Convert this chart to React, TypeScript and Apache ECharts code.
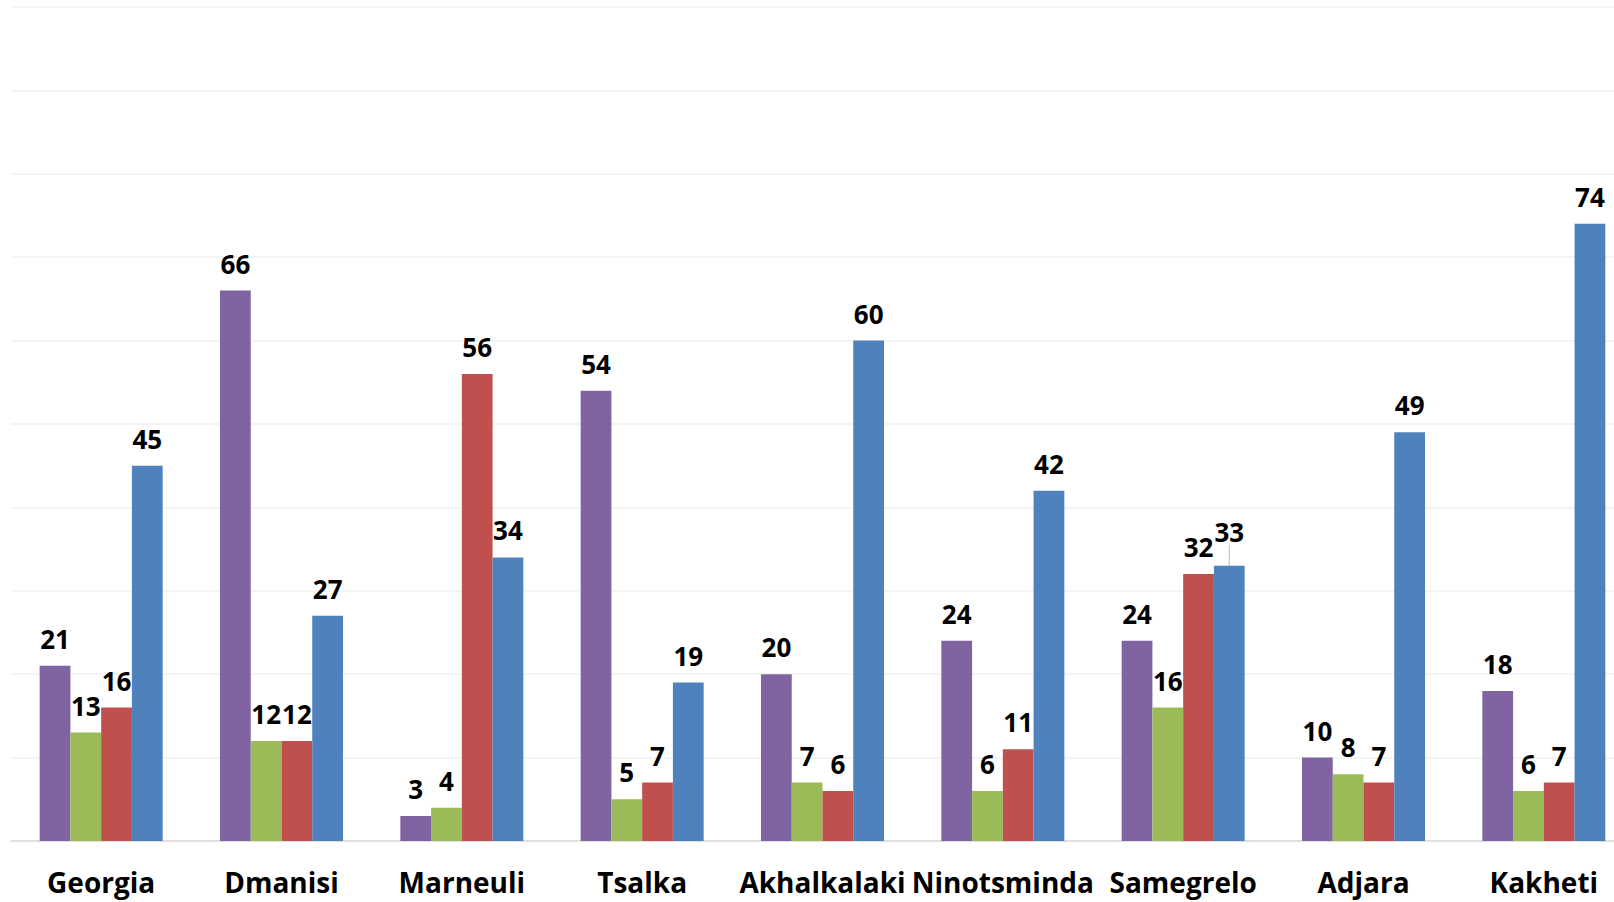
import React, { useEffect, useRef } from "react";
import * as echarts from "echarts";

const categories = ["Georgia", "Dmanisi", "Marneuli", "Tsalka", "Akhalkalaki", "Ninotsminda", "Samegrelo", "Adjara", "Kakheti"];
const purpleValues = [21, 66, 3, 54, 20, 24, 24, 10, 18];
const greenValues = [13, 12, 4, 5, 7, 6, 16, 8, 6];
const redValues = [16, 12, 56, 7, 6, 11, 32, 7, 7];
const blueValues = [45, 27, 34, 19, 60, 42, 33, 49, 74];
const seriesColors = ["#8064A2", "#9BBB59", "#C0504D", "#4F81BD"];

const FONT = "'Open Sans', 'DejaVu Sans', sans-serif";

export default function App() {
  const ref = useRef<HTMLDivElement>(null);
  useEffect(() => {
    document.body.style.margin = "0";
    document.body.style.overflow = "hidden";
    document.documentElement.style.overflow = "hidden";
    const chart = echarts.init(ref.current!, null, { renderer: "svg" });
    const label = {
      show: true,
      position: "top" as const,
      distance: 14,
      color: "#000",
      fontFamily: FONT,
      fontWeight: "bold" as const,
      fontSize: 26,
    };
    const mk = (vals: number[], color: string, idx: number) => {
      const s: any = {
        type: "bar",
        data: vals.map((v, i) => {
          if (idx === 3 && categories[i] === "Samegrelo") {
            return {
              value: v,
              labelLine: { show: true, lineStyle: { color: "#bfbfbf", width: 1 } },
            };
          }
          return v;
        }),
        itemStyle: { color },
        barGap: "0%",
        barCategoryGap: "31.8%",
        label,
      };
      if (idx === 3) {
        s.labelLayout = (p: any) => (categories[p.dataIndex] === "Samegrelo" ? { dy: -7 } : {});
      }
      return s;
    };
    chart.setOption({
      animation: false,
      grid: { left: 11, right: 0, top: 7, bottom: 61, containLabel: false },
      xAxis: {
        type: "category",
        data: categories,
        axisTick: { show: false },
        axisLine: { show: true, lineStyle: { color: "#d9d9d9", width: 1.5 } },
        axisLabel: {
          color: "#000",
          fontFamily: FONT,
          fontWeight: "bold",
          fontSize: 28,
          margin: 27,
          interval: 0,
        },
      },
      yAxis: {
        type: "value",
        min: 0,
        max: 100,
        interval: 10,
        axisLabel: { show: false },
        axisLine: { show: false },
        axisTick: { show: false },
        splitLine: { lineStyle: { color: "#f0f0f0", width: 1.5 } },
      },
      series: [
        mk(purpleValues, seriesColors[0], 0),
        mk(greenValues, seriesColors[1], 1),
        mk(redValues, seriesColors[2], 2),
        mk(blueValues, seriesColors[3], 3),
      ],
    });
    return () => chart.dispose();
  }, []);
  return (
    <div
      ref={ref}
      style={{ position: "fixed", left: 0, top: 0, width: 1634, height: 902, background: "#fff" }}
    />
  );
}
